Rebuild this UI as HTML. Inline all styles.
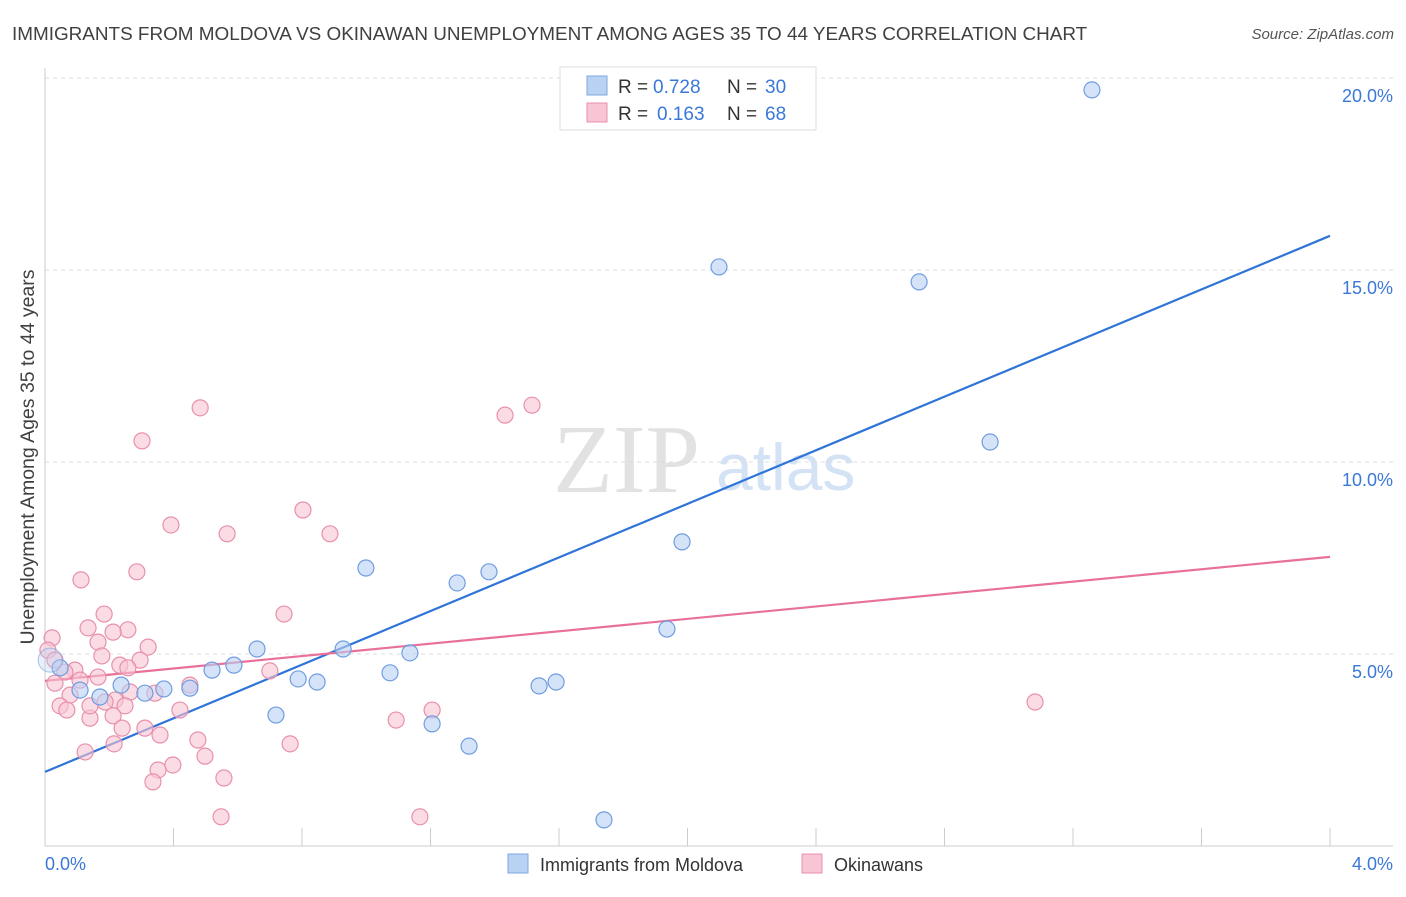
<!DOCTYPE html>
<html><head><meta charset="utf-8">
<style>
body{margin:0;background:#fff;font-family:"Liberation Sans",sans-serif;}
svg text{font-family:"Liberation Sans",sans-serif;}
</style></head>
<body>
<svg id="chart" width="1406" height="892" xmlns="http://www.w3.org/2000/svg">
<text x="12" y="40" font-size="18.9" fill="#404040">IMMIGRANTS FROM MOLDOVA VS OKINAWAN UNEMPLOYMENT AMONG AGES 35 TO 44 YEARS CORRELATION CHART</text>
<text x="1394" y="39" font-size="15" fill="#555" font-style="italic" text-anchor="end">Source: ZipAtlas.com</text>
<g>
<text x="553" y="492" font-size="98" fill="#e2e2e2" font-family="Liberation Serif" style="font-family:'Liberation Serif',serif">ZIP</text>
<text x="716" y="490" font-size="66" fill="#d3e2f4">atlas</text>
</g>
<g id="grid"></g>
<g id="axes"></g>
<g id="lines"></g>
<g id="points"></g>
<text transform="translate(34,457) rotate(-90)" font-size="19.5" fill="#404040" text-anchor="middle">Unemployment Among Ages 35 to 44 years</text>
<text x="45" y="870" font-size="18" fill="#3a78d8">0.0%</text>
<text x="1393" y="870" font-size="18" fill="#3a78d8" text-anchor="end">4.0%</text>
<g>
<rect x="560" y="67" width="256" height="63" fill="#fff" stroke="#ddd"/>
<g>
<rect x="587" y="76" width="20" height="19" fill="#b9d1f3" stroke="#7fa7e0"/>
<text x="618" y="93" font-size="19" fill="#333">R = </text><text x="653" y="93" font-size="19" fill="#3a78d8">0.728</text>
<text x="727" y="93" font-size="19" fill="#333">N = </text><text x="765" y="93" font-size="19" fill="#3a78d8">30</text>
</g>
<g>
<rect x="587" y="103" width="20" height="19" fill="#f8c5d4" stroke="#e890aa"/>
<text x="618" y="120" font-size="19" fill="#333">R = </text><text x="657" y="120" font-size="19" fill="#3a78d8">0.163</text>
<text x="727" y="120" font-size="19" fill="#333">N = </text><text x="765" y="120" font-size="19" fill="#3a78d8">68</text>
</g>
</g>
<g>
<rect x="508" y="854" width="20" height="19" fill="#b9d1f3" stroke="#7fa7e0"/>
<text x="540" y="871" font-size="18" fill="#333">Immigrants from Moldova</text>
<rect x="802" y="854" width="20" height="19" fill="#f8c5d4" stroke="#e890aa"/>
<text x="834" y="871" font-size="18" fill="#333">Okinawans</text>
</g>
</svg>
<script>
const yTicks=[5,10,15,20];
const yTickLabels=["5.0%","10.0%","15.0%","20.0%"];
const blueX=[3.259,2.098,2.721,2.942,1.983,0.999,1.382,1.283,1.936,0.660,0.928,1.136,0.588,0.520,1.074,0.788,0.847,1.591,1.538,0.237,0.370,0.451,0.311,0.171,0.109,0.047,0.016,0.719,1.205,1.320,1.740];
const blueY=[19.69,15.08,14.69,10.52,7.92,7.24,7.14,6.85,5.65,5.13,5.13,5.03,4.71,4.58,4.51,4.35,4.27,4.27,4.17,4.19,4.09,4.11,3.98,3.88,4.06,4.64,4.84,3.41,3.18,2.60,0.68];
const pinkX=[0.483,1.516,1.432,0.302,0.392,0.567,0.803,0.887,0.112,0.286,0.744,0.184,0.134,0.258,0.212,0.321,0.165,0.022,0.009,0.177,0.031,0.296,0.233,0.258,0.093,0.062,0.700,0.165,0.109,0.031,0.451,0.265,0.342,0.218,0.187,0.078,0.047,0.249,0.068,0.420,0.212,0.140,0.311,0.240,0.358,0.476,0.763,0.215,0.125,0.498,0.398,0.352,0.557,0.336,1.093,1.205,3.082,0.548,1.167,0.140];
const pinkY=[11.41,11.48,11.22,10.55,8.36,8.13,8.75,8.13,6.93,7.14,6.04,6.04,5.68,5.63,5.57,5.18,5.31,5.42,5.10,4.95,4.84,4.84,4.71,4.64,4.58,4.53,4.56,4.40,4.32,4.24,4.19,4.01,3.98,3.80,3.75,3.93,3.65,3.65,3.54,3.54,3.39,3.33,3.07,3.07,2.89,2.76,2.66,2.66,2.45,2.34,2.11,1.98,1.77,1.67,3.28,3.54,3.75,0.76,0.76,3.65];
const blueTrend=[1.93,15.89];
const pinkTrend=[4.30,7.53];
const NS="http://www.w3.org/2000/svg";
function sx(v){return 45+v/4*1285;}
function sy(v){return 846-v*38.4;}
function mk(tag,attrs,parent){const e=document.createElementNS(NS,tag);for(const k in attrs)e.setAttribute(k,attrs[k]);parent.appendChild(e);return e;}
const grid=document.getElementById('grid'),axes=document.getElementById('axes'),lines=document.getElementById('lines'),pts=document.getElementById('points');
yTicks.forEach((t,i)=>{
 const l=mk('line',{x1:45,x2:1393,y1:sy(t),y2:sy(t),stroke:'#dcdcdc','stroke-dasharray':'4,4'},grid);
 
 
 const tx=mk('text',{x:1393,y:sy(t)+24,'font-size':18,fill:'#3a78d8','text-anchor':'end'},axes);
 tx.textContent=yTickLabels[i];
 
 
});
const ax=mk('line',{x1:45,x2:1393,y1:846,y2:846,stroke:'#ccc'},axes);


const ay=mk('line',{x1:45,x2:45,y1:68,y2:846,stroke:'#ccc'},axes);


for(let i=1;i<=10;i++){
 const t=mk('line',{x1:sx(i*0.4),x2:sx(i*0.4),y1:828,y2:846,stroke:'#ccc'},axes);
 
 
}
function drawPts(X,Y,fill,stroke,name){
 X.forEach((x,i)=>{
  const big=(name==='moldova-point'&&i===26);
  const r=big?12:8;
  const c=mk('circle',{cx:sx(x),cy:sy(Y[i]),r:r,fill:fill,'fill-opacity':big?0.35:0.6,stroke:stroke,'stroke-width':1.2,'stroke-opacity':big?0.5:1},pts);
  
  
 });
}
drawPts(pinkX,pinkY,'#f8c5d4','#e890aa','okinawan-point');
drawPts(blueX,blueY,'#b9d1f3','#6f9de0','moldova-point');
const bl=mk('line',{x1:sx(0),y1:sy(blueTrend[0]),x2:sx(4),y2:sy(blueTrend[1]),stroke:'#2f74d8','stroke-width':2.2},lines);


const pl=mk('line',{x1:sx(0),y1:sy(pinkTrend[0]),x2:sx(4),y2:sy(pinkTrend[1]),stroke:'#e8709a','stroke-width':2.2},lines);


</script>
</body></html>
